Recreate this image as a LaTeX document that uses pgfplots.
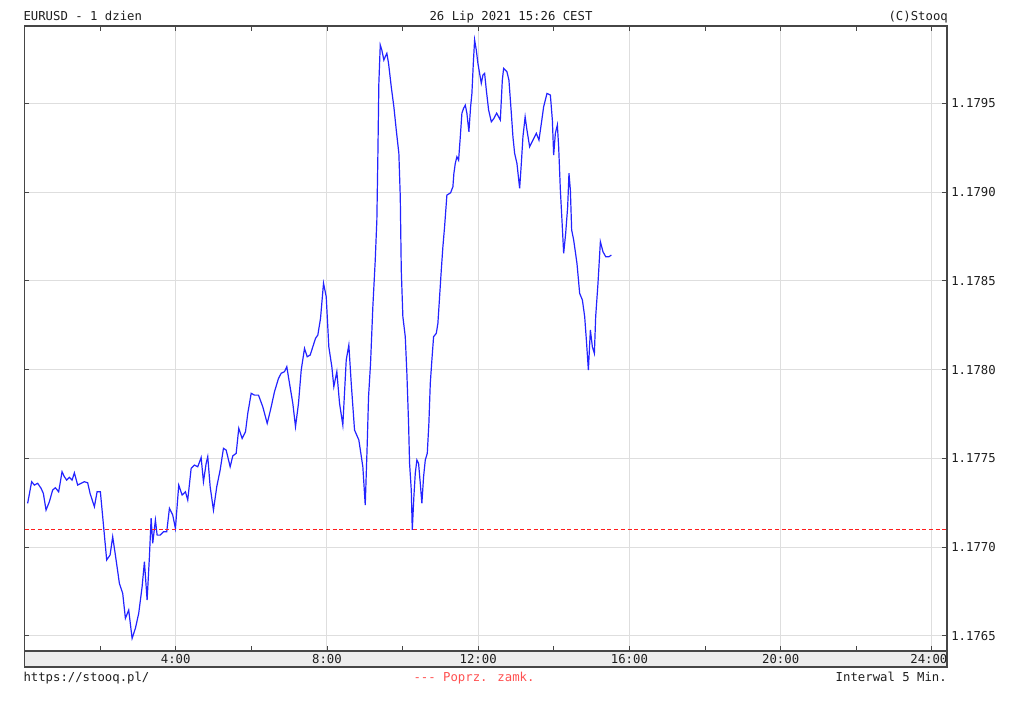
\documentclass[border=0pt]{standalone}
\usepackage{fontspec}
\setmainfont{DejaVu Sans Mono}
\usepackage{pgfplots}
\pgfplotsset{compat=1.18}
\definecolor{quote}{RGB}{35,35,255}
\definecolor{prevclose}{RGB}{255,30,30}
\definecolor{prevtext}{RGB}{255,80,80}
\definecolor{framec}{RGB}{70,70,70}
\definecolor{gridc}{RGB}{222,222,222}
\definecolor{stripc}{RGB}{236,236,236}
\definecolor{txt}{RGB}{30,30,30}

% EURUSD, 5 min quotes (hour of day, price)
\begin{document}
\fontsize{12.3}{14}\selectfont
\begin{tikzpicture}
\useasboundingbox (0pt,0pt) rectangle (1024pt,703pt);
% grey band under the plot that holds the hour labels
\draw[framec, line width=1.3pt, fill=stripc] (24.5pt,36pt) rectangle (947pt,52pt);
\begin{axis}[
  at={(24.5pt,52pt)}, anchor=south west,
  scale only axis, width=922.5pt, height=625pt,
  xmin=0, xmax=24.4, ymin=1.176414, ymax=1.179936,
  xtick={4,8,12,16,20,24},
  xticklabels={4:00,8:00,12:00,16:00,20:00,\hspace*{-6pt}24:00},
  minor xtick={2,6,10,14,18,22},
  ytick={1.1765,1.1770,1.1775,1.1780,1.1785,1.1790,1.1795},
  scaled y ticks=false,
  yticklabel style={/pgf/number format/.cd, fixed, fixed zerofill, precision=4},
  /pgf/number format/assume math mode=true,
  yticklabel pos=right, ytick pos=both, xtick pos=both,
  tick align=inside,
  major tick length=5pt, minor tick length=5pt,
  tick style={framec, line width=0.9pt},
  xmajorgrids, ymajorgrids,
  major grid style={gridc, line width=1pt},
  axis line style={framec, line width=1.3pt},
  ticklabel style={font=\fontsize{12.3}{14}\selectfont, text=txt},
  xticklabel style={anchor=base, yshift=-12.3pt},
]
\addplot[draw=quote, line width=1.2pt] table {
h v
0.0831 1.177246
0.1890 1.177368
0.2604 1.177349
0.3478 1.177359
0.4378 1.177331
0.4986 1.177302
0.5701 1.177208
0.6574 1.177255
0.7448 1.177321
0.8162 1.177334
0.9035 1.177311
0.9935 1.177424
1.0544 1.177396
1.1153 1.177377
1.1867 1.177393
1.2582 1.177377
1.3191 1.177418
1.4064 1.177349
1.4964 1.177359
1.5837 1.177368
1.6711 1.177362
1.7346 1.177302
1.8484 1.177227
1.9198 1.177311
2.0072 1.177311
2.0681 1.177171
2.1739 1.176927
2.2639 1.176955
2.3327 1.177058
2.4227 1.176927
2.5100 1.176795
2.5974 1.176739
2.6689 1.176598
2.7562 1.176645
2.8462 1.176485
2.9335 1.176542
3.0208 1.176626
3.1108 1.176776
3.1717 1.176917
3.2431 1.176701
3.3040 1.176945
3.3490 1.177162
3.3914 1.177021
3.4628 1.177152
3.5078 1.177067
3.5872 1.177067
3.6746 1.177086
3.7619 1.177086
3.8334 1.177218
3.9207 1.177180
3.9921 1.177105
4.0795 1.177349
4.1694 1.177293
4.2568 1.177311
4.3177 1.177265
4.4077 1.177443
4.4950 1.177462
4.5823 1.177452
4.6723 1.177504
4.7332 1.177368
4.8046 1.177471
4.8470 1.177509
4.9105 1.177340
4.9978 1.177208
5.0851 1.177340
5.1751 1.177434
5.2624 1.177556
5.3339 1.177546
5.4397 1.177452
5.5087 1.177513
5.5986 1.177528
5.6674 1.177669
5.7574 1.177612
5.8447 1.177649
5.9056 1.177753
5.9956 1.177866
6.0829 1.177856
6.1888 1.177856
6.3026 1.177790
6.4191 1.177697
6.5064 1.177772
6.6123 1.177875
6.7181 1.177950
6.7896 1.177979
6.8769 1.177988
6.9378 1.178016
7.0092 1.177922
7.0966 1.177810
7.1680 1.177678
7.2474 1.177810
7.3189 1.177997
7.4062 1.178119
7.4776 1.178072
7.5570 1.178082
7.6258 1.178128
7.6973 1.178176
7.7581 1.178194
7.8296 1.178288
7.9090 1.178486
7.9805 1.178410
8.0493 1.178128
8.1287 1.178016
8.1816 1.177903
8.2610 1.177988
8.3325 1.177810
8.4198 1.177687
8.5098 1.178054
8.5786 1.178138
8.6421 1.177922
8.7294 1.177659
8.8432 1.177603
8.9491 1.177452
9.0126 1.177236
9.0655 1.177584
9.1000 1.177847
9.1529 1.178035
9.2137 1.178354
9.2772 1.178617
9.3196 1.178842
9.3460 1.179199
9.3725 1.179613
9.4096 1.179829
9.4519 1.179800
9.5048 1.179744
9.5419 1.179763
9.5842 1.179782
9.6292 1.179725
9.7007 1.179593
9.7695 1.179481
9.8330 1.179350
9.9018 1.179218
9.9389 1.178974
9.9654 1.178561
10.0077 1.178298
10.0712 1.178185
10.1136 1.177979
10.1585 1.177697
10.1850 1.177471
10.2300 1.177321
10.2565 1.177096
10.2988 1.177283
10.3359 1.177415
10.3782 1.177490
10.4232 1.177471
10.4682 1.177359
10.5105 1.177246
10.5555 1.177396
10.6005 1.177490
10.6534 1.177528
10.6958 1.177697
10.7328 1.177922
10.7752 1.178054
10.8202 1.178185
10.8916 1.178204
10.9340 1.178260
10.9790 1.178410
11.0240 1.178561
11.0663 1.178692
11.1113 1.178805
11.1721 1.178983
11.2701 1.178996
11.3309 1.179030
11.3574 1.179106
11.3945 1.179162
11.4368 1.179199
11.4818 1.179180
11.5268 1.179312
11.5691 1.179444
11.6141 1.179472
11.6591 1.179490
11.7014 1.179444
11.7544 1.179340
11.7994 1.179481
11.8338 1.179556
11.8708 1.179725
11.9052 1.179857
11.9502 1.179800
11.9926 1.179725
12.0375 1.179669
12.0825 1.179613
12.1249 1.179659
12.1699 1.179669
12.2149 1.179575
12.2757 1.179462
12.3472 1.179396
12.4160 1.179415
12.4875 1.179445
12.5854 1.179406
12.6383 1.179631
12.6727 1.179697
12.7601 1.179678
12.8130 1.179631
12.8765 1.179444
12.9189 1.179312
12.9639 1.179218
13.0247 1.179162
13.0963 1.179021
13.1412 1.179162
13.1836 1.179312
13.2418 1.179424
13.2895 1.179350
13.3609 1.179255
13.4482 1.179293
13.5382 1.179331
13.6070 1.179293
13.6706 1.179387
13.7314 1.179481
13.8188 1.179556
13.9088 1.179547
13.9617 1.179406
13.9961 1.179209
14.0411 1.179331
14.0940 1.179378
14.1284 1.179255
14.1734 1.179011
14.2157 1.178842
14.2607 1.178655
14.3136 1.178767
14.3666 1.178917
14.4010 1.179106
14.4380 1.179011
14.4724 1.178786
14.5253 1.178730
14.6127 1.178598
14.6841 1.178429
14.7556 1.178392
14.8165 1.178298
14.8615 1.178166
14.9144 1.177997
14.9673 1.178223
15.0202 1.178128
15.0731 1.178091
15.1075 1.178298
15.1684 1.178486
15.2319 1.178720
15.3007 1.178664
15.3722 1.178636
15.4595 1.178636
15.5234 1.178645
};
% previous close
\addplot[draw=prevclose, line width=1.5pt, dash pattern=on 4pt off 2.7pt] table {
h v
0 1.1771
24.4 1.1771
};
\end{axis}
% header and footer texts
\node[anchor=base west, inner sep=0pt, text=txt] at (23.3pt,682.3pt) {EURUSD - 1 dzien};
\node[anchor=base, inner sep=0pt, text=txt] at (511pt,682.3pt) {26 Lip 2021 15:26 CEST};
\node[anchor=base east, inner sep=0pt, text=txt] at (948pt,682.3pt) {(C)Stooq};
\node[anchor=base west, inner sep=0pt, text=txt] at (23.3pt,21.3pt) {https://stooq.pl/};
\node[anchor=base, inner sep=0pt, text=prevtext] at (474pt,21.3pt) {-\kern0pt-\kern0pt- Poprz. zamk.};
\node[anchor=base east, inner sep=0pt, text=txt] at (947pt,21.3pt) {Interwal 5 Min.};
\end{tikzpicture}
\end{document}
